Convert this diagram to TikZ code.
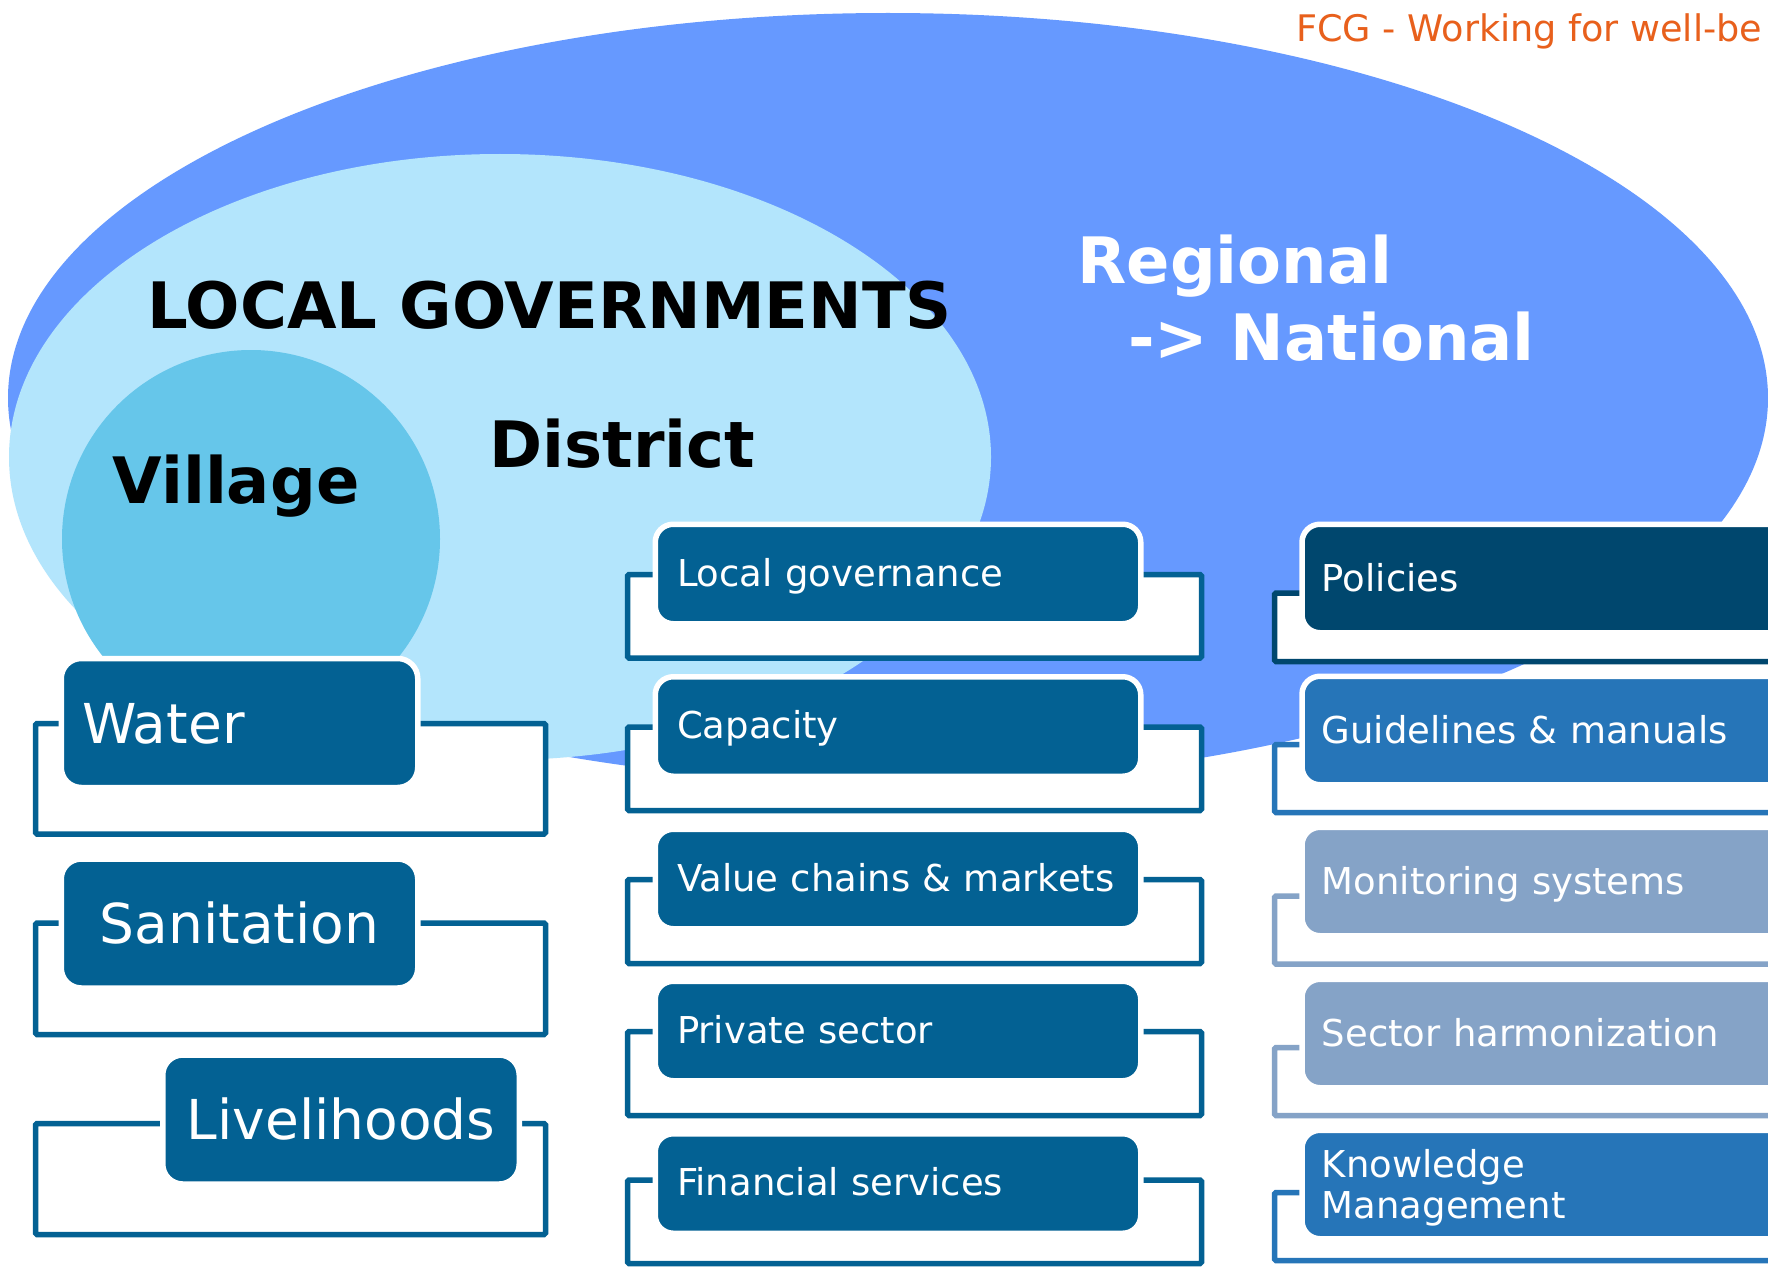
\documentclass[tikz,border=0pt]{standalone}
\usepackage{fontspec}
\setmainfont{DejaVu Sans}
\definecolor{bigblue}{HTML}{6699FF}
\definecolor{lightblue}{HTML}{B3E5FC}
\definecolor{villageblue}{HTML}{66C6EA}
\definecolor{boxblue}{HTML}{036193}
\definecolor{policyblue}{HTML}{00476E}
\definecolor{guideblue}{HTML}{2675B8}
\definecolor{greyblue}{HTML}{85A3C7}
\definecolor{fcgorange}{HTML}{E8601C}
\begin{document}
\begin{tikzpicture}[x=1pt,y=-1pt,
  titletext/.style={font=\fontsize{64pt}{70pt}\selectfont\bfseries, inner sep=0pt, anchor=base},
  bracketbox/.style={line width=5.5pt, rounded corners=1.5pt, fill=white},
  basebox/.style={draw=white, line width=5.5pt, text=white, inner ysep=0pt},
  leftbox/.style={basebox, fill=boxblue, rounded corners=20pt, minimum width=356.5pt, minimum height=129pt,
    font=\fontsize{55pt}{60pt}\selectfont, text height=46pt, text depth=6pt},
  midbox/.style={basebox, fill=boxblue, rounded corners=18pt, text width=442pt, inner xsep=21.75pt,
    align=left, minimum height=99.5pt, font=\fontsize{37pt}{41pt}\selectfont, text height=30pt, text depth=6pt},
  rightbox/.style={basebox, rounded corners=18pt, anchor=west, text width=460.5pt, inner xsep=19.75pt,
    align=left, minimum height=108.5pt, font=\fontsize{37pt}{41pt}\selectfont}
]
\clip (0,0) rectangle (1768,1268);
\fill[white] (0,0) rectangle (1768,1268);
% background shapes
\fill[bigblue] (888,398) ellipse [x radius=880, y radius=385];
\fill[lightblue] (500,457) ellipse [x radius=491, y radius=303];
\fill[villageblue] (251,539) circle [radius=189];
% titles
\node[titletext] (lg) at (549.5,328) {LOCAL GOVERNMENTS};
\node[titletext] (district) at (622.5,467) {District};
\node[titletext] (village) at (236,503) {Village};
\node[titletext, text=white] (regional) at (1235,283) {Regional};
\node[titletext, text=white] (national) at (1331.5,360) {-> National};
\node[font=\fontsize{36.6pt}{40pt}\selectfont, text=fcgorange, anchor=base west, inner sep=0pt] (fcg) at (1296,42) {FCG - Working for well-be};
% left column brackets
\draw[bracketbox, draw=boxblue] (35.5,723.5) rectangle (545.5,834);
\draw[bracketbox, draw=boxblue] (35.5,923) rectangle (545.5,1034.5);
\draw[bracketbox, draw=boxblue] (35.5,1123.5) rectangle (545.5,1234.5);
% middle column brackets
\draw[bracketbox, draw=boxblue] (627.5,574.5) rectangle (1201.5,658);
\draw[bracketbox, draw=boxblue] (627.5,727) rectangle (1201.5,810.5);
\draw[bracketbox, draw=boxblue] (627.5,879.5) rectangle (1201.5,963.5);
\draw[bracketbox, draw=boxblue] (627.5,1031.5) rectangle (1201.5,1115.5);
\draw[bracketbox, draw=boxblue] (627.5,1180) rectangle (1201.5,1263.5);
% right column brackets
\draw[bracketbox, draw=policyblue] (1274.5,593) rectangle (1800,661.5);
\draw[bracketbox, draw=guideblue] (1274.5,744.5) rectangle (1800,812.5);
\draw[bracketbox, draw=greyblue] (1274.5,896) rectangle (1800,964);
\draw[bracketbox, draw=greyblue] (1274.5,1047.5) rectangle (1800,1115.5);
\draw[bracketbox, draw=guideblue] (1274.5,1192.5) rectangle (1800,1260.5);
% left column boxes
\node[leftbox, text width=315pt, inner xsep=20.75pt, align=left] (water) at (239.5,723) {Water};
\node[leftbox, inner xsep=0pt] (sanitation) at (239.5,923.5) {Sanitation};
\node[leftbox, inner xsep=0pt] (livelihoods) at (341,1119.5) {Livelihoods};
% middle column boxes
\node[midbox] (localgov) at (898,574) {Local governance};
\node[midbox] (capacity) at (898,726.5) {Capacity};
\node[midbox] (valuechains) at (898,879) {Value chains \& markets};
\node[midbox] (private) at (898,1031) {Private sector};
\node[midbox] (financial) at (898,1183.5) {Financial services};
% right column boxes
\node[rightbox, fill=policyblue, text height=31pt, text depth=6pt] (policies) at (1299.25,578.5) {Policies};
\node[rightbox, fill=guideblue, text height=31pt, text depth=6pt] (guidelines) at (1299.25,730.5) {Guidelines \& manuals};
\node[rightbox, fill=greyblue, text height=31pt, text depth=6pt] (monitoring) at (1299.25,881.5) {Monitoring systems};
\node[rightbox, fill=greyblue, text height=31pt, text depth=6pt] (sector) at (1299.25,1033.5) {Sector harmonization};
\node[rightbox, fill=guideblue] (knowledge) at (1299.25,1184.5) {\rule{0pt}{34pt}Knowledge\\Management};
\end{tikzpicture}
\end{document}
